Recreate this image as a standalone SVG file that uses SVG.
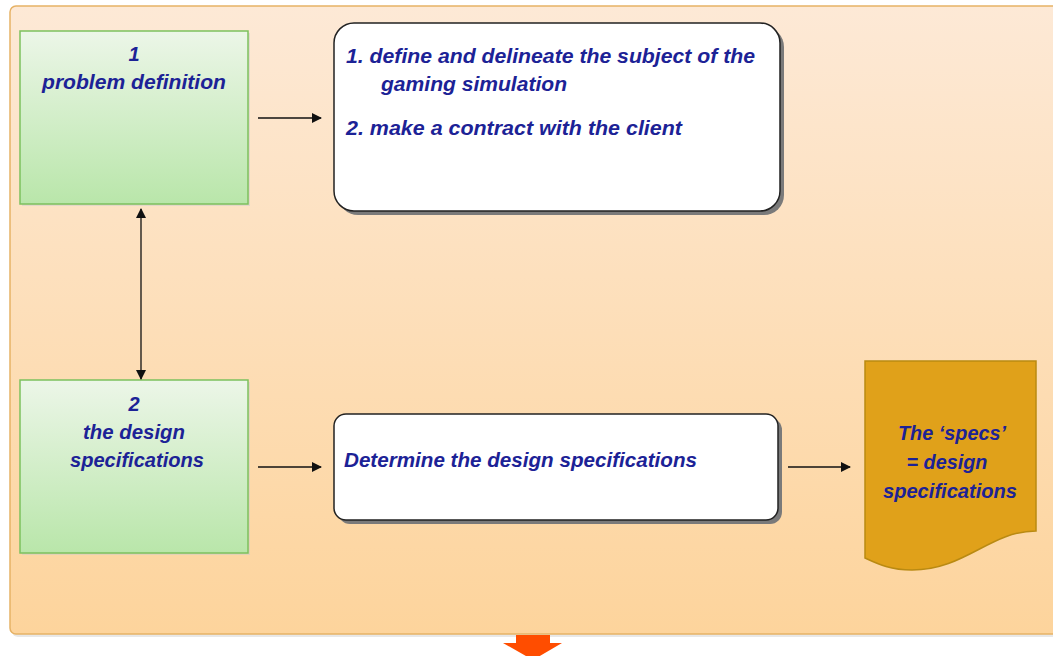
<svg xmlns="http://www.w3.org/2000/svg" width="1053" height="656" viewBox="0 0 1053 656">
  <defs>
    <linearGradient id="panelFill" x1="0" y1="0" x2="0" y2="1">
      <stop offset="0" stop-color="#fde9d6"/>
      <stop offset="1" stop-color="#fdd49c"/>
    </linearGradient>
    <linearGradient id="greenFill" x1="0" y1="0" x2="0" y2="1">
      <stop offset="0" stop-color="#ecf6e8"/>
      <stop offset="1" stop-color="#b9e6aa"/>
    </linearGradient>
    <marker id="arrow" viewBox="0 0 10 10" refX="9" refY="5" markerWidth="11" markerHeight="10" markerUnits="userSpaceOnUse" orient="auto-start-reverse">
      <path d="M0,0 L10,5 L0,10 z" fill="#111"/>
    </marker>
  </defs>
  <style>
    .lbl { font-family: "Liberation Sans", Arial, sans-serif; font-weight: bold; font-style: italic; font-size: 20px; fill: #1c2296; }
    .mid { text-anchor: middle; }
    .green { fill: url(#greenFill); stroke: #7cc15e; stroke-width: 1.5; }
    .card { fill: #ffffff; stroke: #222; stroke-width: 1.5; }
    .shadow { fill: #7a7a7a; }
    .conn { stroke: #111; stroke-width: 1.3; fill: none; }
  </style>

  <rect width="1053" height="656" fill="#ffffff"/>

  <!-- background panel -->
  <g id="panel">
    <rect x="12" y="9" width="1060" height="628" rx="6" fill="#d8d8d8" opacity="0.6"/>
    <rect x="10" y="6" width="1060" height="628" rx="6" fill="url(#panelFill)" stroke="#e6b265" stroke-width="1.5"/>
  </g>

  <!-- step 1 -->
  <g id="step1">
    <rect x="22" y="33" width="228" height="173" fill="#cccccc" opacity="0.5"/>
    <rect x="20" y="31" width="228" height="173" class="green"/>
    <text class="lbl mid" x="134" y="61">1</text>
    <text class="lbl mid" x="134" y="89" textLength="184" lengthAdjust="spacingAndGlyphs">problem definition</text>
  </g>

  <!-- step 2 -->
  <g id="step2">
    <rect x="22" y="382" width="228" height="173" fill="#cccccc" opacity="0.5"/>
    <rect x="20" y="380" width="228" height="173" class="green"/>
    <text class="lbl mid" x="134" y="411">2</text>
    <text class="lbl mid" x="134" y="439" textLength="102" lengthAdjust="spacingAndGlyphs">the design</text>
    <text class="lbl mid" x="137" y="467" textLength="134" lengthAdjust="spacingAndGlyphs">specifications</text>
  </g>

  <!-- activities of step 1 -->
  <g id="tasks1">
    <rect x="338" y="27" width="446" height="188" rx="20" class="shadow"/>
    <rect x="334" y="23" width="446" height="188" rx="20" class="card"/>
    <text class="lbl" x="346" y="63" textLength="409" lengthAdjust="spacingAndGlyphs">1.  define and delineate the subject of the</text>
    <text class="lbl" x="381" y="91" textLength="186" lengthAdjust="spacingAndGlyphs">gaming simulation</text>
    <text class="lbl" x="346" y="135" textLength="336" lengthAdjust="spacingAndGlyphs">2.  make a contract with the client</text>
  </g>

  <!-- activities of step 2 -->
  <g id="tasks2">
    <rect x="338" y="418" width="444" height="106" rx="12" class="shadow"/>
    <rect x="334" y="414" width="444" height="106" rx="12" class="card"/>
    <text class="lbl" x="344" y="467" textLength="353" lengthAdjust="spacingAndGlyphs">Determine the design specifications</text>
  </g>

  <!-- output document -->
  <g id="specs">
    <path d="M865,361 L1036,361 L1036,531 C990,531 965,570 912,570 C890,570 878,564 865,558 Z" fill="#e0a11a" stroke="#b98a12" stroke-width="1.5"/>
    <text class="lbl mid" x="952" y="440" textLength="108" lengthAdjust="spacingAndGlyphs">The ‘specs’</text>
    <text class="lbl mid" x="947" y="469" textLength="81" lengthAdjust="spacingAndGlyphs">= design</text>
    <text class="lbl mid" x="950" y="498" textLength="134" lengthAdjust="spacingAndGlyphs">specifications</text>
  </g>

  <!-- connectors -->
  <g id="connectors">
    <line x1="258" y1="118" x2="321" y2="118" class="conn" marker-end="url(#arrow)"/>
    <line x1="258" y1="467" x2="321" y2="467" class="conn" marker-end="url(#arrow)"/>
    <line x1="788" y1="467" x2="850" y2="467" class="conn" marker-end="url(#arrow)"/>
    <line x1="141" y1="209" x2="141" y2="379" class="conn" marker-start="url(#arrow)" marker-end="url(#arrow)"/>
  </g>

  <!-- continuation arrow -->
  <g id="next">
    <path d="M516,635 L550,635 L550,643 L562,643 L533,660 L503,643 L516,643 Z" fill="#ff4d00"/>
  </g>
</svg>
